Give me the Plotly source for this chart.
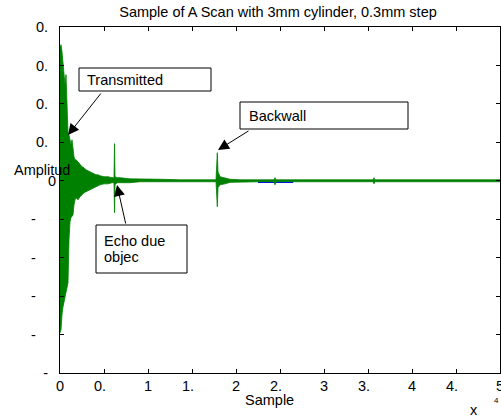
import plotly.graph_objects as go

# ---- data (envelope per displayed column) ----
sample_pos = [0, 114, 227, 341, 455, 568, 682, 795, 909, 1023, 1136, 1250, 1364, 1477,
              1591, 1705, 1818, 2045, 2273, 2500, 2727, 2955, 3182, 3409, 3636, 3864,
              4091, 4318, 4545, 5000, 5455, 5909, 6136, 6193, 6250, 6477, 6818, 7955,
              9091, 10227, 11364, 13636, 15909, 17727, 17875, 17955, 18182, 18750,
              19318, 20455, 22727, 24330, 24432, 24540, 25000, 27273, 29545, 31818,
              34091, 35580, 35682, 35790, 36364, 38636, 40909, 43182, 45455, 47727, 50000]
amp_top = [0.697, 0.708, 0.671, 0.614, 0.552, 0.499, 0.552, 0.369, 0.250, 0.239, 0.213,
           0.187, 0.213, 0.161, 0.125, 0.109, 0.109, 0.099, 0.083, 0.073, 0.068, 0.057,
           0.052, 0.047, 0.042, 0.036, 0.031, 0.031, 0.026, 0.021, 0.021, 0.016, 0.016,
           0.193, 0.021, 0.016, 0.016, 0.010, 0.010, 0.010, 0.008, 0.005, 0.005, 0.005,
           0.146, 0.047, 0.021, 0.016, 0.008, 0.005, 0.005, 0.005, 0.016, 0.005, 0.005,
           0.005, 0.005, 0.005, 0.005, 0.005, 0.016, 0.005, 0.005, 0.005, 0.005, 0.005,
           0.005, 0.005, 0.005]
amp_bottom = [-0.791, -0.775, -0.697, -0.656, -0.619, -0.604, -0.567, -0.557, -0.531,
              -0.307, -0.213, -0.192, -0.187, -0.177, -0.125, -0.099, -0.088, -0.099,
              -0.083, -0.073, -0.062, -0.057, -0.052, -0.047, -0.042, -0.036, -0.031,
              -0.026, -0.021, -0.016, -0.016, -0.010, -0.010, -0.166, -0.021, -0.010,
              -0.010, -0.010, -0.005, -0.005, -0.005, -0.005, -0.005, -0.005, -0.135,
              -0.036, -0.021, -0.016, -0.008, -0.005, -0.005, -0.005, -0.021, -0.005,
              -0.005, -0.005, -0.005, -0.005, -0.005, -0.005, -0.016, -0.005, -0.005,
              -0.005, -0.005, -0.005, -0.005, -0.005, -0.005]
blue_x = [22500, 26500]
blue_y = [-0.008, -0.008]

x_ticks = [0, 5000, 10000, 15000, 20000, 25000, 30000, 35000, 40000, 45000, 50000]
x_ticktext = ["0", "0.", "1", "1.", "2", "2.", "3", "3.", "4", "4.", "5"]
y_ticks = [-1.0, -0.8, -0.6, -0.4, -0.2, 0.0, 0.2, 0.4, 0.6, 0.8]
y_ticktext = ["-", "-", "-", "-", "-", "0", "0.", "0.", "0.", "0."]

NB = "\u00a0"
xt = [t + (NB * 2 if t.endswith(".") else "") for t in x_ticktext]
y_pad = [2, 5, 5, 5, 5, 0, 2, 2, 2, 2]
yt = [t + NB * p for t, p in zip(y_ticktext, y_pad)]

# envelope polygon: upper edge forward, lower edge back
env_x = sample_pos + sample_pos[::-1]
env_y = amp_top + amp_bottom[::-1]

W, H = 501, 416
L, R, T, B = 60, 500, 27, 373
FONT = "Liberation Sans, Arial, sans-serif"
FS = 14.5

def px(xp):
    return (xp - L) / (R - L)

def py(yp):
    return (B - yp) / (B - T)

fig = go.Figure()
fig.add_trace(go.Scatter(x=blue_x, y=blue_y, mode="lines",
                         line=dict(color="#0000ff", width=1.5), hoverinfo="skip"))
fig.add_trace(go.Scatter(x=env_x, y=env_y, mode="lines", fill="toself",
                         fillcolor="#008000",
                         line=dict(color="#008000", width=0.8), hoverinfo="skip"))

ann = []
shapes = []

def box(x0, y0, x1, y1):
    shapes.append(dict(type="rect", xref="paper", yref="paper",
                       x0=px(x0), x1=px(x1), y0=py(y1), y1=py(y0),
                       line=dict(color="black", width=1), fillcolor="white", layer="above"))

def label(text, xp, yp, xanchor="left", size=FS):
    ann.append(dict(text=text, xref="paper", yref="paper", x=px(xp), y=py(yp),
                    xanchor=xanchor, yanchor="middle", showarrow=False,
                    font=dict(family=FONT, size=size, color="black")))

def arrow(hx, hy, tx, ty):
    ann.append(dict(text="", xref="paper", yref="paper", x=px(hx), y=py(hy),
                    ax=tx - hx, ay=ty - hy, axref="pixel", ayref="pixel",
                    showarrow=True, arrowhead=2, arrowsize=2.2, arrowwidth=1,
                    arrowcolor="black", standoff=0))

box(79, 68, 211, 91)
label("Transmitted", 85, 79.5)
arrow(68, 135, 102, 92)

box(240, 102, 408, 129)
label("Backwall", 247, 116)
arrow(218, 150, 250, 130)

box(96, 225, 187, 273)
label("Echo due", 102, 241)
label("objec", 102, 257)
arrow(117, 185, 126, 225)

label("Amplitud", 12, 170)
label("Sample", 269, 400, xanchor="center")
label("x", 474, 410, xanchor="center")
label("4", 496, 400, xanchor="center", size=8)

fig.update_layout(
    width=W, height=H,
    margin=dict(l=L, r=W - R, t=T, b=H - B, autoexpand=False),
    paper_bgcolor="white", plot_bgcolor="white",
    showlegend=False,
    font=dict(family=FONT, size=FS, color="black"),
    title=dict(text="Sample of A Scan with 3mm cylinder, 0.3mm step",
               x=278 / W, xanchor="center", y=1 - 12 / H, yanchor="middle",
               yref="container", font=dict(family=FONT, size=FS, color="black")),
    xaxis=dict(range=[0, 50000], tickvals=x_ticks, ticktext=xt, automargin=False,
               ticks="inside", ticklen=4, tickcolor="black", tickwidth=1,
               ticklabeloverflow="allow",
               showline=True, linecolor="black", linewidth=1, mirror="ticks",
               showgrid=False, zeroline=False, fixedrange=True,
               tickfont=dict(family=FONT, size=FS, color="black")),
    yaxis=dict(range=[-1.0, 0.8], tickvals=y_ticks, ticktext=yt, automargin=False,
               ticks="inside", ticklen=4, tickcolor="black", tickwidth=1,
               ticklabeloverflow="allow",
               showline=True, linecolor="black", linewidth=1, mirror="ticks",
               showgrid=False, zeroline=False, fixedrange=True,
               tickfont=dict(family=FONT, size=FS, color="black")),
    annotations=ann, shapes=shapes,
)

fig.write_html("out.html", config={"displayModeBar": False},
               post_script="document.body.style.margin='0px';document.body.style.padding='0px';")
